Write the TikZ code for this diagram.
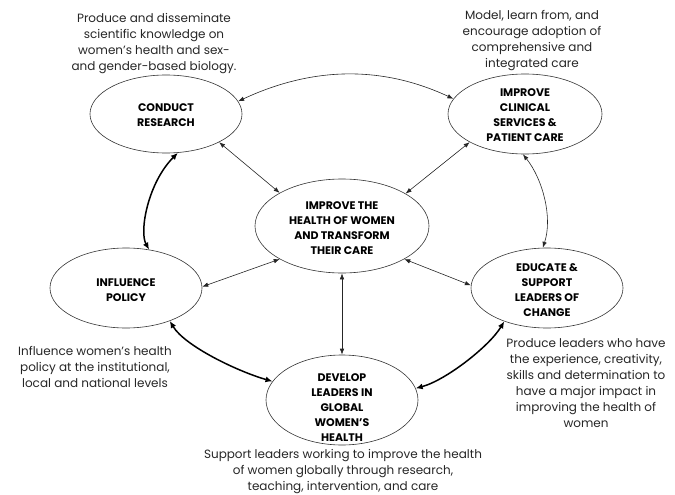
\documentclass[tikz,border=0pt]{standalone}
\usepackage{fontspec}
\setmainfont{Poppins}
\usetikzlibrary{shapes.geometric,arrows.meta}
\begin{document}
\begin{tikzpicture}[x=1pt,y=-1pt,
  ell/.style={draw=black!80,line width=0.6pt,ellipse,inner sep=0pt},
  lbl/.style={font=\fontsize{11}{15}\selectfont\bfseries,align=center,inner sep=0pt},
  desc/.style={font=\fontsize{12}{16}\selectfont,text=black!85,align=center,inner sep=0pt},
  thin/.style={line width=0.6pt,draw=black!85,{Latex[length=6pt,width=4.5pt]}-{Latex[length=6pt,width=4.5pt]}},
  thick/.style={line width=1.5pt,draw=black,{Latex[length=7pt,width=6pt]}-{Latex[length=7pt,width=6pt]}}]
\path[use as bounding box] (0,0) rectangle (675,495);
% ellipses
\node[ell,minimum width=152pt,minimum height=78pt] (cr) at (166,114) {};
\node[ell,minimum width=154pt,minimum height=80pt] (cc) at (525,114) {};
\node[ell,minimum width=174pt,minimum height=94pt] (ct) at (342,226) {};
\node[ell,minimum width=152pt,minimum height=80pt] (ip) at (126,288) {};
\node[ell,minimum width=152pt,minimum height=80pt] (ed) at (547,288) {};
\node[ell,minimum width=152pt,minimum height=90pt] (dv) at (342,400) {};
% ellipse labels
\node[lbl] (crl) at (166,115) {CONDUCT\\RESEARCH};
\node[lbl] (ccl) at (525,115) {IMPROVE\\CLINICAL\\SERVICES \&\\PATIENT CARE};
\node[lbl] (ctl) at (342,228) {IMPROVE THE\\HEALTH OF WOMEN\\AND TRANSFORM\\THEIR CARE};
\node[lbl] (ipl) at (126,290) {INFLUENCE\\POLICY};
\node[lbl] (edl) at (547,290) {EDUCATE \&\\SUPPORT\\LEADERS OF\\CHANGE};
\node[lbl] (dvl) at (342,408) {DEVELOP\\LEADERS IN\\GLOBAL\\WOMEN’S\\HEALTH};
% descriptions
\node[desc] (d1) at (154,44) {Produce and disseminate\\scientific knowledge on\\women’s health and sex-\\and gender-based biology.};
\node[desc] (d2) at (532,41) {Model, learn from, and\\encourage adoption of\\comprehensive and\\integrated care};
\node[desc] (d3) at (95,367) {Influence women’s health\\policy at the institutional,\\local and national levels};
\node[desc] (d4) at (586,383) {Produce leaders who have\\the experience, creativity,\\skills and determination to\\have a major impact in\\improving the health of\\women};
\node[desc] (d5) at (343,472) {Support leaders working to improve the health\\of women globally through research,\\teaching, intervention, and care};
% connectors
\draw[thin] (cr.10) .. controls +(73,-34) and +(-73,-34) .. (cc.168);
\draw[thin] (cr.332) -- (ct.152);
\draw[thin] (cc.207) -- (ct.27);
\draw[thin] (ct.208) -- (ip.1);
\draw[thin] (ct.332) -- (ed.178);
\draw[thin] (ct.270) -- (dv.90);
\draw[thin] (cc.267) .. controls +(20,25) and +(10,-30) .. (ed.96);
\draw[thick] (cr.287) .. controls +(-30,30) and +(-10,-18) .. (ip.59);
\draw[thick] (ip.323) .. controls +(15,25) and +(-35,-10) .. (dv.165);
\draw[thick] (ed.218) .. controls +(-15,25) and +(30,-8) .. (dv.9);
\end{tikzpicture}
\end{document}
